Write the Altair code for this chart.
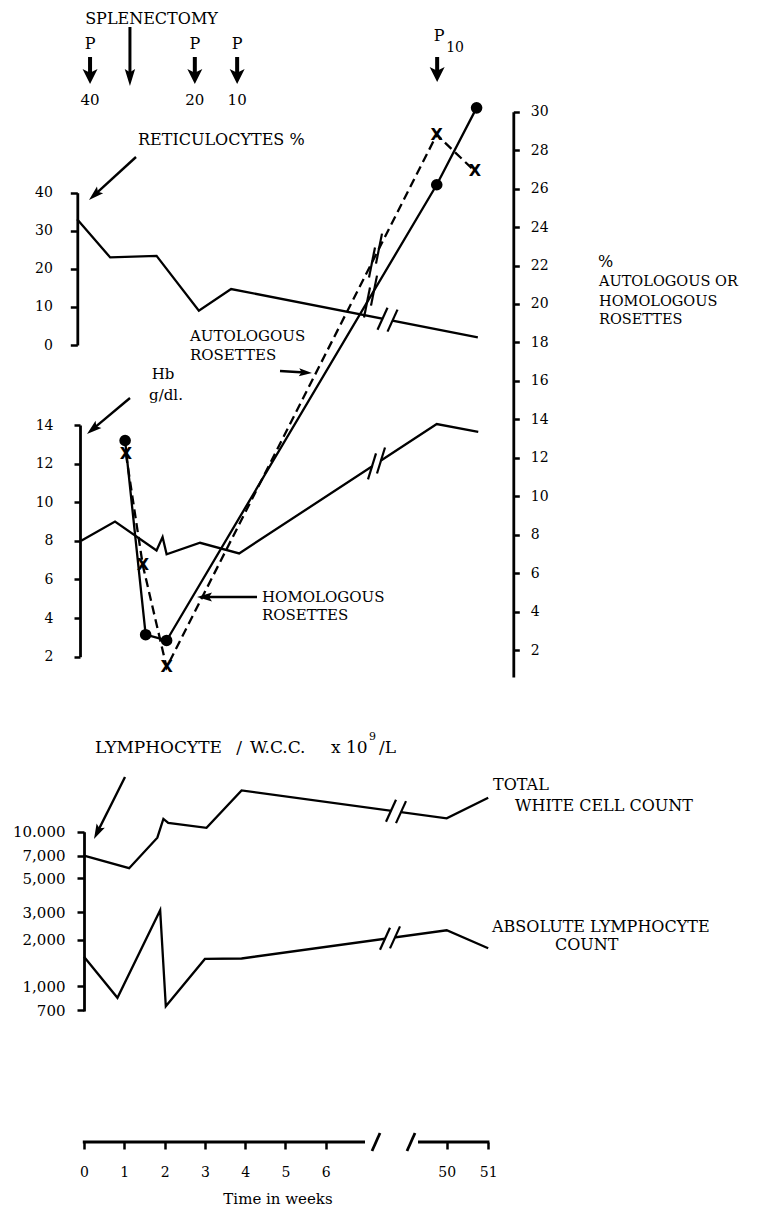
import math
import altair as alt
import pandas as pd

# ---------------------------------------------------------------
# Values
# ---------------------------------------------------------------
week_ticks = [0, 1, 2, 3, 4, 5, 6, 50, 51]

retic_weeks = [-0.17, 0.65, 1.80, 2.85, 3.65, 50.75]
retic_pct = [33.0, 23.0, 23.4, 9.0, 14.7, 2.0]

hb_weeks = [-0.07, 0.77, 1.80, 1.95, 2.05, 2.88, 3.85, 49.76, 50.76]
hb_gdl = [8.0, 9.0, 7.5, 8.2, 7.3, 7.9, 7.35, 14.05, 13.65]

homologous_weeks = [1.02, 1.53, 2.05, 49.76, 50.72]
homologous_pct = [12.9, 2.8, 2.5, 26.2, 30.2]

autologous_weeks = [1.04, 1.46, 2.05, 49.76, 50.68]
autologous_pct = [12.2, 6.4, 1.1, 28.8, 26.9]

wcc_weeks = [0.0, 1.12, 1.82, 1.97, 2.09, 3.04, 3.91, 50.0, 51.0]
wcc_count = [7000, 5800, 9150, 12100, 11400, 10600, 18500, 12200, 16600]

lymph_weeks = [0.0, 0.83, 1.89, 2.03, 3.00, 3.91, 50.0, 51.0]
lymph_count = [1550, 840, 3100, 740, 1500, 1510, 2300, 1760]

retic_ticks = [0, 10, 20, 30, 40]
hb_ticks = [2, 4, 6, 8, 10, 12, 14]
rosette_ticks = [2, 4, 6, 8, 10, 12, 14, 16, 18, 20, 22, 24, 26, 28, 30]
lymph_ticks = [700, 1000, 2000, 3000, 5000, 7000, 10000]

pred_weeks = [0.15, 2.75, 3.80]          # prednisolone doses
pred_doses = ["40", "20", "10"]
splenectomy_week = 1.14
late_pred_week = 49.77

# ---------------------------------------------------------------
# Layout helpers (image coordinates -> plot coordinates)
# ---------------------------------------------------------------
M = 8
W, H = 741, 1134
X0, UNIT, XD1 = 84.0, 40.3, 10.05
SERIF = "DejaVu Serif"
ONE = pd.DataFrame({"k": [0]})


def pos(w):
    return w if w <= 7 else 9 + (w - 50) * 1.03


def ximg(w):
    return X0 + pos(w) * UNIT


RET = ([0, 40], [345.0, 192.7])
HB = ([2, 14], [656.7, 425.0])
ROS = ([0.6, 30], [677.0, 111.7])
LYM = ([690, 10000], [1011.0, 831.7])


def y_lin(v, sc):
    (d0, d1), (r0, r1) = sc
    return r0 + (v - d0) / (d1 - d0) * (r1 - r0)


def y_log(v, sc):
    (d0, d1), (r0, r1) = sc
    l = math.log10
    return r0 + (l(v) - l(d0)) / (l(d1) - l(d0)) * (r1 - r0)


X_AXIS = alt.Axis(
    orient="bottom", values=[pos(w) for w in week_ticks],
    labelExpr="datum.value > 9.5 ? '51' : (datum.value > 8 ? '50' : format(datum.value, 'd'))",
    domain=False, grid=False, ticks=True, tickSize=7, tickWidth=2.5, tickColor="black",
    labelFont=SERIF, labelFontSize=14, labelColor="black", labelPadding=16,
    labelFlush=False, labelOverlap=False, labelBound=False, title=None)


def xenc():
    return alt.X("pos:Q",
                 scale=alt.Scale(domain=[0, XD1], range=[X0 - M, X0 - M + XD1 * UNIT],
                                 nice=False, zero=False),
                 axis=X_AXIS)


def yaxis(orient, x_img, values, pad, size=14, expr=None, tick=7):
    off = -(x_img - M) if orient == "left" else (x_img - M) - W
    kw = dict(orient=orient, offset=off, values=values, title=None, grid=False,
              domainColor="black", domainWidth=2.8, tickColor="black", tickWidth=2.5,
              tickSize=tick, labelFont=SERIF, labelFontSize=size, labelColor="black",
              labelPadding=pad, labelBaseline="middle", labelBound=False,
              labelOverlap=False, labelFlush=False)
    if expr:
        kw["labelExpr"] = expr
    return alt.Axis(**kw)


def series(weeks, vals):
    return pd.DataFrame({"pos": [pos(w) for w in weeks], "v": vals})


def yenc(sc, axis=None, log=False):
    d, r = sc
    s = alt.Scale(type="log" if log else "linear", domain=list(d),
                  range=[r[0] - M, r[1] - M], nice=False, zero=False)
    return alt.Y("v:Q", scale=s, axis=axis)


def line(weeks, vals, sc, axis=None, log=False, dash=None):
    mk = dict(color="black", strokeWidth=2.3, strokeJoin="miter")
    if dash:
        mk["strokeDash"] = dash
    return alt.Chart(series(weeks, vals)).mark_line(**mk).encode(
        x=xenc(), y=yenc(sc, axis, log))


def seg(p1, p2, w=2.4, color="black"):
    return alt.Chart(ONE).mark_rule(color=color, strokeWidth=w, strokeCap="butt").encode(
        x=alt.value(p1[0] - M), y=alt.value(p1[1] - M),
        x2=alt.value(p2[0] - M), y2=alt.value(p2[1] - M))


def label(t, x, y, size=15, align="left", font=SERIF, weight="normal"):
    return alt.Chart(ONE).mark_text(
        text=t, align=align, baseline="middle", font=font, fontSize=size,
        fontWeight=weight, color="black").encode(x=alt.value(x - M), y=alt.value(y - M))


HEAD_THIN = ("M0,-1L0.55,0.8L0,0.45L-0.55,0.8Z", 1.8)
HEAD_BOLD = ("M0,-1L0.8,0.6L0,0.2L-0.8,0.6Z", 1.6)


def arrow(tail, tip, head_len=14, shaft=2.4, bold=False):
    dx, dy = tip[0] - tail[0], tip[1] - tail[1]
    L = math.hypot(dx, dy)
    ux, uy = dx / L, dy / L
    path, span = HEAD_BOLD if bold else HEAD_THIN
    unit = head_len / span
    cx, cy = tip[0] - ux * unit, tip[1] - uy * unit
    ang = math.degrees(math.atan2(ux, -uy)) % 360
    head = alt.Chart(ONE).mark_point(
        shape=path, filled=True, color="black", opacity=1, size=(2 * unit) ** 2,
        angle=ang, strokeWidth=0).encode(x=alt.value(cx - M), y=alt.value(cy - M))
    return [seg(tail, (cx, cy), w=shaft), head]


def y_on(pts, x):
    for (x1, y1), (x2, y2) in zip(pts, pts[1:]):
        if x1 <= x <= x2:
            return y1 + (x - x1) / (x2 - x1) * (y2 - y1)
    return pts[-1][1]


def break_marks(pts, bx, half, sep, gap):
    cs = [(x, y_on(pts, x)) for x in (bx - sep / 2, bx + sep / 2)]
    out = []
    if gap:
        out.append(seg(cs[0], cs[1], w=7, color="white"))
    for cx, cy in cs:
        out.append(seg((cx - half[0], cy - half[1]), (cx + half[0], cy + half[1]), w=2.2))
    return out


# ---------------------------------------------------------------
# Layers
# ---------------------------------------------------------------
layers = []

# data lines
layers.append(line(retic_weeks, retic_pct, RET,
                   axis=yaxis("left", 77.3, retic_ticks, 18)))
layers.append(line(hb_weeks, hb_gdl, HB,
                   axis=yaxis("left", 80.0, hb_ticks, 21, tick=6)))
layers.append(line(autologous_weeks, autologous_pct, ROS, dash=[9, 5],
                   axis=yaxis("right", 513.3, rosette_ticks, 11, tick=6)))
layers.append(line(homologous_weeks, homologous_pct, ROS))
layers.append(line(wcc_weeks, wcc_count, LYM, log=True,
                   axis=yaxis("left", 84.0, lymph_ticks, 12, size=15,
                              expr="datum.value == 10000 ? '10.000' : format(datum.value, ',')")))
layers.append(line(lymph_weeks, lymph_count, LYM, log=True))

# break marks on the lines
def px_series(weeks, vals, f, sc):
    return [(ximg(w), f(v, sc)) for w, v in zip(weeks, vals)]

layers += break_marks(px_series(retic_weeks, retic_pct, y_lin, RET), 387.5, (5, -11), 10, True)
layers += break_marks(px_series(hb_weeks, hb_gdl, y_lin, HB), 376.5, (4, -13), 9, True)
layers += break_marks(px_series(autologous_weeks, autologous_pct, y_lin, ROS), 375.5, (3, -15), 7, False)
layers += break_marks(px_series(homologous_weeks, homologous_pct, y_lin, ROS), 370.5, (3, -15), 7, False)
layers += break_marks(px_series(wcc_weeks, wcc_count, y_log, LYM), 396.0, (5, -11), 10, True)
layers += break_marks(px_series(lymph_weeks, lymph_count, y_log, LYM), 390.0, (5, -11), 10, True)

# markers
layers.append(alt.Chart(series(homologous_weeks, homologous_pct)).mark_circle(
    size=135, color="black", opacity=1).encode(x=xenc(), y=yenc(ROS)))
layers.append(alt.Chart(series(autologous_weeks, autologous_pct)).mark_text(
    text="X", font="DejaVu Sans", fontSize=16, fontWeight="bold", color="black",
    baseline="middle", align="center").encode(x=xenc(), y=yenc(ROS)))

# x axis line with break
AX_Y = H + M
layers.append(seg((ximg(0) - 1.2, AX_Y), (365, AX_Y), w=2.8))
layers.append(seg((418, AX_Y), (ximg(51) + 1.2, AX_Y), w=2.8))
for sx in (376, 411):
    layers.append(seg((sx - 4, AX_Y + 9), (sx + 4, AX_Y - 9), w=2.8))

# treatment annotations
layers.append(label("SPLENECTOMY", 151.5, 19, 16, "center"))
layers += arrow((ximg(splenectomy_week), 27), (ximg(splenectomy_week), 86), head_len=17, shaft=3)
for w, d in zip(pred_weeks, pred_doses):
    layers.append(label("P", ximg(w), 44, 16, "center"))
    layers += arrow((ximg(w), 57), (ximg(w), 84), head_len=15, shaft=4, bold=True)
    layers.append(label(d, ximg(w), 100, 15, "center"))
layers.append(label("P", ximg(late_pred_week) + 2, 36, 16, "center"))
layers.append(label("10", ximg(late_pred_week) + 9, 48, 14, "left"))
layers += arrow((ximg(late_pred_week), 57), (ximg(late_pred_week), 82), head_len=15, shaft=4, bold=True)

# panel labels
layers.append(label("RETICULOCYTES %", 138, 140, 16))
layers += arrow((136, 157), (89, 200), head_len=15)
layers.append(label("AUTOLOGOUS", 190, 336, 15))
layers.append(label("ROSETTES", 190, 355, 15))
layers += arrow((280, 371), (312, 373), head_len=13)
layers.append(label("Hb", 163, 374, 15, "center"))
layers.append(label("g/dl.", 166, 395, 15, "center"))
layers += arrow((130, 398), (87, 434), head_len=15)
layers.append(label("HOMOLOGOUS", 262, 597, 15))
layers.append(label("ROSETTES", 262, 615, 15))
layers += arrow((257, 597), (197, 597), head_len=15)

layers.append(label("%", 598, 262, 16))
layers.append(label("AUTOLOGOUS OR", 599, 282, 14.5))
layers.append(label("HOMOLOGOUS", 599, 302, 14.5))
layers.append(label("ROSETTES", 599, 320, 14.5))

layers.append(label("LYMPHOCYTE", 95, 748, 17))
layers.append(label("/", 239, 748, 17, "center"))
layers.append(label("W.C.C.", 250, 748, 17))
layers.append(label("x 10", 331, 748, 17))
layers.append(label("9", 369, 737, 11))
layers.append(label("/L", 379, 748, 17))
layers += arrow((125, 777), (94, 839), head_len=15)

layers.append(label("TOTAL", 493, 785, 16))
layers.append(label("WHITE CELL COUNT", 515, 806, 16))
layers.append(label("ABSOLUTE LYMPHOCYTE", 492, 927, 16))
layers.append(label("COUNT", 555, 945, 16))

layers.append(label("Time in weeks", 278, 1199, 15, "center"))

chart = alt.layer(*layers).resolve_scale(y="independent").resolve_axis(
    y="independent").properties(
    width=W, height=H,
    autosize=alt.AutoSizeParams(type="none"),
    padding={"left": 0, "top": 0, "right": 0, "bottom": 66},
    background="white",
).configure_view(stroke=None)

chart.save("out.html", embed_options={"renderer": "svg", "actions": False})
